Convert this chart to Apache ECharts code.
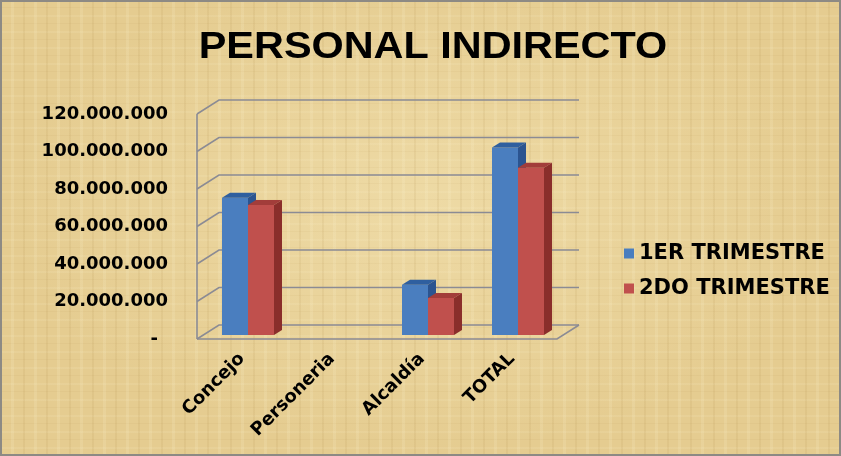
<!DOCTYPE html>
<html>
<head>
<meta charset="utf-8">
<script src="https://cdn.jsdelivr.net/npm/echarts@6/dist/echarts.min.js"></script>
<style>
  html, body { margin: 0; padding: 0; background: #fff; }
  #wrap { position: relative; width: 841px; height: 456px; overflow: hidden;
    background-color: #e5cc90;
    background-image:
      repeating-linear-gradient(90deg, rgba(150,110,40,0.08) 0px, rgba(150,110,40,0.08) 2px, rgba(0,0,0,0) 2px, rgba(0,0,0,0) 11px, rgba(255,248,215,0.14) 11px, rgba(255,248,215,0.14) 14px, rgba(0,0,0,0) 14px, rgba(0,0,0,0) 23px),
      repeating-linear-gradient(0deg, rgba(150,110,40,0.05) 0px, rgba(150,110,40,0.05) 1px, rgba(0,0,0,0) 1px, rgba(0,0,0,0) 7px, rgba(255,248,215,0.10) 7px, rgba(255,248,215,0.10) 9px, rgba(0,0,0,0) 9px, rgba(0,0,0,0) 16px),
      radial-gradient(ellipse at 50% 45%, rgba(255,245,205,0.35) 0%, rgba(255,245,205,0) 70%);
  }
  #chart { position: absolute; left: 0; top: 0; width: 841px; height: 456px; }
  #frame { position: absolute; left: 0; top: 0; width: 841px; height: 456px; box-sizing: border-box;
    border: 2px solid #8d8a84; pointer-events: none; }
</style>
</head>
<body>
<div id="wrap"><div id="chart"></div><div id="frame"></div></div>
<script>
// ---- data ----
const categories = ['Concejo', 'Personeria', 'Alcaldía', 'TOTAL'];
const seriesNames = ['1ER TRIMESTRE', '2DO TRIMESTRE'];
const trimestre1 = [73200000, 0, 26800000, 100000000];
const trimestre2 = [69300000, 0, 19700000, 89200000];
const yTicks = [0, 20000000, 40000000, 60000000, 80000000, 100000000, 120000000];
const titleText = 'PERSONAL INDIRECTO';

// ---- styling / geometry constants ----
const DEPTH_X = 22, DEPTH_Y = 14;      // wall depth
const BAR_OFF_X = 6, BAR_OFF_Y = 4;    // bar position inside depth
const BAR_W = 26, BAR_DX = 8, BAR_DY = 5;
const GRID_COLOR = '#8b8b94';
const FONT = '"Liberation Sans", Arial, sans-serif';
const WIDE = '"DejaVu Sans", sans-serif';
const barColors = [
  { front: '#4a7ebf', top: '#2f5f9f', side: '#2b5490' },
  { front: '#c0504d', top: '#a23d3a', side: '#8a2e2b' }
];

function fmt(v) {
  if (v === 0) return '{d|-}';
  return String(v).replace(/\B(?=(\d{3})+(?!\d))/g, '.');
}

function barRender(s) {
  const c = barColors[s];
  return function (params, api) {
    const v = api.value(1);
    if (!v) return null;
    const base = api.coord([api.value(0), 0]);
    const top = api.coord([api.value(0), v]);
    const cx = base[0] + BAR_OFF_X;
    const x0 = s === 0 ? cx - BAR_W : cx;
    const x1 = x0 + BAR_W;
    const yb = base[1] - BAR_OFF_Y;
    const yt = top[1] - BAR_OFF_Y;
    return {
      type: 'group',
      children: [
        { type: 'rect', shape: { x: x0, y: yt, width: BAR_W, height: yb - yt }, style: { fill: c.front } },
        { type: 'polygon', shape: { points: [[x0, yt], [x1, yt], [x1 + BAR_DX, yt - BAR_DY], [x0 + BAR_DX, yt - BAR_DY]] }, style: { fill: c.top } },
        { type: 'polygon', shape: { points: [[x1, yt], [x1 + BAR_DX, yt - BAR_DY], [x1 + BAR_DX, yb - BAR_DY], [x1, yb]] }, style: { fill: c.side } }
      ]
    };
  };
}

function wallRender(params, api) {
  const cs = params.coordSys;
  const val = api.value(1);
  const y = api.coord([0, val])[1];
  const x0 = cs.x, w = cs.width;
  const st = { stroke: GRID_COLOR, lineWidth: 1.6, fill: null };
  const children = [
    { type: 'polyline', shape: { points: [[x0, y], [x0 + DEPTH_X, y - DEPTH_Y], [x0 + w + DEPTH_X, y - DEPTH_Y]] }, style: st }
  ];
  if (val === 0) {
    children.push({ type: 'polyline', shape: { points: [[x0, y], [x0 + w, y], [x0 + w + DEPTH_X, y - DEPTH_Y]] }, style: st });
    children.push({ type: 'line', shape: { x1: x0, y1: y, x2: x0, y2: cs.y }, style: st });
  }
  return { type: 'group', children: children };
}

const chart = echarts.init(document.getElementById('chart'), null, { renderer: 'canvas' });
chart.setOption({
  backgroundColor: 'transparent',
  animation: false,
  textStyle: { fontFamily: FONT },
  graphic: [{
    type: 'text', x: 433, y: 48, scaleX: 1.15,
    style: { text: titleText, fontSize: 36, fontWeight: 'bold', fontFamily: FONT, fill: '#000', align: 'center', verticalAlign: 'middle' }
  }],
  legend: {
    data: seriesNames, orient: 'vertical', left: 619, top: 238,
    icon: 'rect', itemWidth: 10, itemHeight: 10, itemGap: 14,
    textStyle: { fontSize: 21, fontWeight: 'bold', color: '#000', fontFamily: WIDE }
  },
  grid: { left: 197, top: 114, width: 360, height: 225, containLabel: false },
  xAxis: {
    type: 'category', data: categories,
    axisLine: { show: false }, axisTick: { show: false }, splitLine: { show: false },
    axisLabel: { rotate: 45, margin: 17, fontSize: 18, fontWeight: 'bold', color: '#000', fontFamily: WIDE, interval: 0 }
  },
  yAxis: {
    type: 'value', min: 0, max: 120000000, interval: 20000000,
    axisLine: { show: false }, axisTick: { show: false }, splitLine: { show: false },
    axisLabel: { margin: 29, fontSize: 18, fontWeight: 'bold', color: '#000', fontFamily: WIDE,
      formatter: fmt, rich: { d: { fontSize: 18, fontWeight: 'bold', fontFamily: WIDE, padding: [0, 10, 0, 0] } } }
  },
  series: [
    { name: 'walls', type: 'custom', silent: true, z: 1, renderItem: wallRender,
      encode: { x: 0, y: 1 }, data: yTicks.map(v => [0, v]) },
    { name: seriesNames[0], type: 'custom', z: 2, renderItem: barRender(0), itemStyle: { color: barColors[0].front },
      encode: { x: 0, y: 1 }, data: trimestre1.map((v, i) => [i, v]) },
    { name: seriesNames[1], type: 'custom', z: 3, renderItem: barRender(1), itemStyle: { color: barColors[1].front },
      encode: { x: 0, y: 1 }, data: trimestre2.map((v, i) => [i, v]) }
  ]
});
</script>
</body>
</html>
